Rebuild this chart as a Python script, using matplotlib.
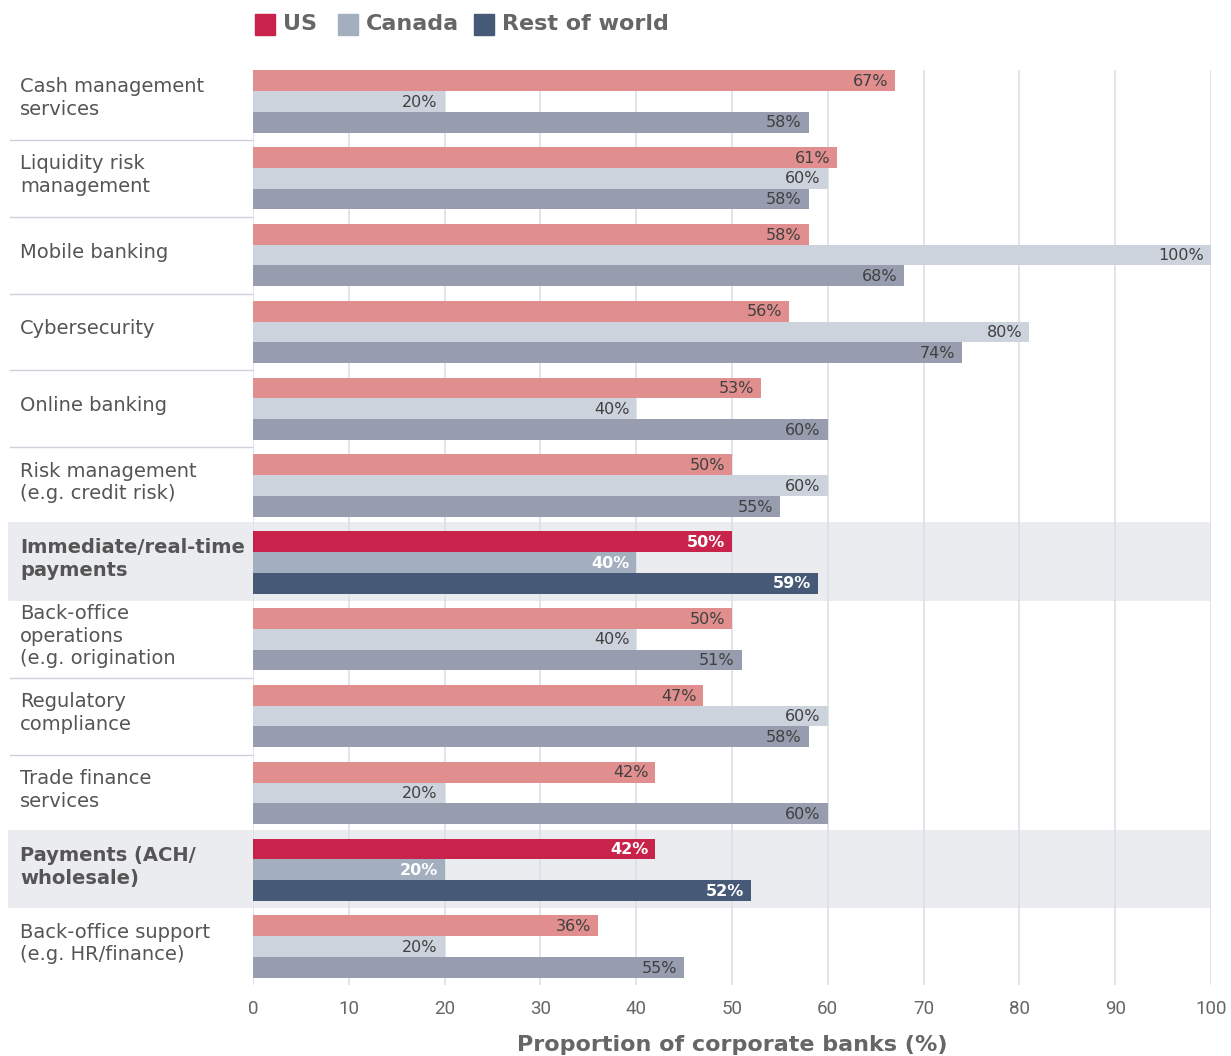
import matplotlib
matplotlib.use("Agg")
import matplotlib.pyplot as plt
from matplotlib.patches import Rectangle
import numpy as np

# ── data ──────────────────────────────────────────────────────────────
categories = [
    "Cash management\nservices",
    "Liquidity risk\nmanagement",
    "Mobile banking",
    "Cybersecurity",
    "Online banking",
    "Risk management\n(e.g. credit risk)",
    "Immediate/real-time\npayments",
    "Back-office\noperations\n(e.g. origination",
    "Regulatory\ncompliance",
    "Trade finance\nservices",
    "Payments (ACH/\nwholesale)",
    "Back-office support\n(e.g. HR/finance)",
]
series = ["US", "Canada", "Rest of world"]

# bar lengths as drawn
us_pct     = [67, 61, 58, 56, 53, 50, 50, 50, 47, 42, 42, 36]
canada_pct = [20, 60, 100, 81, 40, 60, 40, 40, 60, 20, 20, 20]
row_pct    = [58, 58, 68, 74, 60, 55, 59, 51, 58, 60, 52, 45]
# numbers printed on the bars
us_lbl     = [67, 61, 58, 56, 53, 50, 50, 50, 47, 42, 42, 36]
canada_lbl = [20, 60, 100, 80, 40, 60, 40, 40, 60, 20, 20, 20]
row_lbl    = [58, 58, 68, 74, 60, 55, 59, 51, 58, 60, 52, 55]

highlight = [6, 10]

# ── style ─────────────────────────────────────────────────────────────
STRONG = ["#C8234A", "#A3AFBF", "#465A78"]
MUTED  = ["#E08E8E", "#CDD3DD", "#979CAE"]
HL_BG  = "#EBECF0"
GRID   = "#DCDFE7"
SEP    = "#CDD1DC"
INK    = "#404040"
CAT    = "#555555"
DIM    = "#666666"
WIDE   = ["DejaVu Sans"]

plt.rcParams["font.family"] = ["Roboto", "DejaVu Sans"]

W, H = 1231, 1056
fig = plt.figure(figsize=(W / 100, H / 100), dpi=100, facecolor="white")
L, R, T, B = 253, 1211, 63, 985
ax = fig.add_axes([L / W, 1 - B / H, (R - L) / W, (B - T) / H])
for sp in ax.spines.values():
    sp.set_visible(False)

n = len(categories)
ax.set_xlim(0, 100)
ax.set_ylim(n - 0.5, -0.5)
y = np.arange(n)
bh = 0.27
left_edge = (8 - L) / (R - L)      # axes fraction of left panel edge
sep_left = (10 - L) / (R - L)

# highlighted rows background
for i in highlight:
    ax.axhspan(i - 0.52, i + 0.5, xmin=left_edge, xmax=1, color=HL_BG,
               zorder=0, clip_on=False, lw=0)

# separators in label column
trans = matplotlib.transforms.blended_transform_factory(ax.transAxes, ax.transData)
for i in range(n - 1):
    if i in highlight or i + 1 in highlight:
        continue
    ax.plot([sep_left, 0], [i + 0.5, i + 0.5], transform=trans, color=SEP,
            lw=1, clip_on=False, zorder=1)

# grid
ax.vlines(np.arange(0, 101, 10), -0.41, n - 0.47, color=GRID, lw=1.2, zorder=1)

vals = [us_pct, canada_pct, row_pct]
lbls = [us_lbl, canada_lbl, row_lbl]
offs = [-bh, 0, bh]
for s in range(3):
    for i in range(n):
        hl = i in highlight
        col = STRONG[s] if hl else MUTED[s]
        v = vals[s][i]
        ax.barh(y[i] + offs[s], v, height=bh, color=col, zorder=2, lw=0)
        ax.annotate(f"{lbls[s][i]}%", (v, y[i] + offs[s]), xytext=(-5, -0.5),
                    textcoords="offset points", ha="right", va="center",
                    fontsize=11.5, family=WIDE,
                    fontweight="bold" if hl else "normal",
                    color="white" if hl else INK, zorder=3)

# category labels
for i, c in enumerate(categories):
    hl = i in highlight
    ax.text((20 - L) / (R - L), i - 0.04, c, transform=trans, ha="left",
            va="center", fontsize=14, color=CAT, linespacing=1.25,
            fontweight="bold" if hl else "normal", family=WIDE)

ax.set_yticks([])
ax.set_xticks(np.arange(0, 101, 10))
ax.tick_params(axis="x", length=0, pad=11, labelsize=13.5, labelcolor=DIM)
ax.set_xlabel("Proportion of corporate banks (%)", fontsize=16,
              fontweight="bold", color=DIM, labelpad=12, family=WIDE)

# legend
leg_x = [255, 338, 474]
for s, name in enumerate(series):
    x0 = leg_x[s]
    fig.patches.append(Rectangle((x0 / W, 1 - 35 / H), 20 / W, 21 / H,
                                 transform=fig.transFigure, color=STRONG[s]))
    fig.text((x0 + 28) / W, 1 - 24 / H, name, ha="left", va="center",
             fontsize=16, fontweight="bold", color=DIM, family=WIDE)

fig.savefig("out.png", dpi=100, facecolor="white")
